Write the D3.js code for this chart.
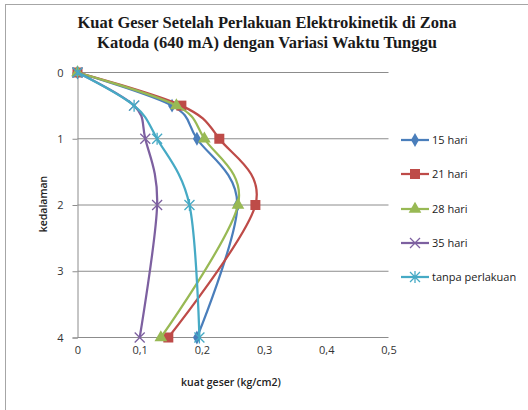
<!DOCTYPE html>
<html>
<head>
<meta charset="utf-8">
<script src="https://cdn.jsdelivr.net/npm/d3@7/dist/d3.min.js"></script>
<style>
  html, body { margin: 0; padding: 0; background: #fff; }
  svg { display: block; }
</style>
</head>
<body>
<svg id="chart" width="528" height="410"></svg>
<script>
// Depth levels (kedalaman) shared by every series
const depths = [0, 0.5, 1, 2, 4];

// Shear strength (kg/cm2) per waiting time
const hari15 = [0, 0.152, 0.192, 0.257, 0.192];
const hari21 = [0, 0.167, 0.228, 0.286, 0.146];
const hari28 = [0, 0.159, 0.204, 0.258, 0.134];
const hari35 = [0, 0.091, 0.109, 0.128, 0.100];
const tanpa  = [0, 0.091, 0.128, 0.180, 0.196];

const seriesNames = ["15 hari", "21 hari", "28 hari", "35 hari", "tanpa perlakuan"];
const seriesValues = [hari15, hari21, hari28, hari35, tanpa];
const seriesColors = ["#4A7EBB", "#BE4B48", "#98B954", "#7D60A0", "#46AAC5"];
const seriesMarkers = ["diamond", "square", "triangle", "cross", "star"];

const xTicks = [0, 0.1, 0.2, 0.3, 0.4, 0.5];
const yTicks = [0, 1, 2, 3, 4];

const titleLines = [
  "Kuat Geser Setelah Perlakuan Elektrokinetik di Zona",
  "Katoda (640 mA) dengan Variasi Waktu Tunggu"
];

const svg = d3.select("#chart");

// outer chart frame
svg.append("rect")
  .attr("x", 5.5).attr("y", 4.5)
  .attr("width", 700).attr("height", 700)
  .attr("fill", "none").attr("stroke", "#a6a6a6").attr("stroke-width", 1);

// title
svg.append("g").selectAll("text").data(titleLines).join("text")
  .attr("x", 267).attr("y", (d, i) => 28 + i * 20)
  .attr("text-anchor", "middle")
  .attr("font-family", "'Liberation Serif', 'Times New Roman', serif")
  .attr("font-weight", "bold")
  .attr("font-size", 16.5)
  .attr("fill", "#1a1a1a")
  .text(d => d);

const x = d3.scaleLinear().domain([0, 0.5]).range([77.5, 388.5]);
const y = d3.scaleLinear().domain([0, 4]).range([72.5, 337.5]);

// horizontal gridlines
svg.append("g").selectAll("line").data(yTicks).join("line")
  .attr("x1", x(0)).attr("x2", x(0.5))
  .attr("y1", d => y(d)).attr("y2", d => y(d))
  .attr("stroke", "#8c8c8c").attr("stroke-width", 1);

// y axis (depth) with ticks on the left
const yAxis = d3.axisLeft(y).tickValues(yTicks).tickSize(5).tickPadding(9)
  .tickFormat(d3.format("d"));
const gy = svg.append("g").attr("transform", `translate(${x(0)},0)`).call(yAxis);
gy.select(".domain").attr("stroke", "#8c8c8c");
gy.selectAll(".tick line").attr("stroke", "#8c8c8c");
gy.selectAll(".tick text")
  .attr("font-family", "'Open Sans', 'Liberation Sans', sans-serif")
  .attr("font-size", 11).attr("fill", "#333");

// x axis labels (bottom), no domain line besides gridline
const xAxis = d3.axisBottom(x).tickValues(xTicks).tickSize(0).tickPadding(9)
  .tickFormat(d => d === 0 ? "0" : d3.format(".1f")(d).replace(".", ","));
const gx = svg.append("g").attr("transform", `translate(0,${y(4)})`).call(xAxis);
gx.select(".domain").remove();
gx.selectAll(".tick text")
  .attr("font-family", "'Open Sans', 'Liberation Sans', sans-serif")
  .attr("font-size", 11).attr("fill", "#333");

// axis titles
svg.append("text")
  .attr("transform", "translate(47,204) rotate(-90)")
  .attr("text-anchor", "middle")
  .attr("font-family", "'Open Sans', 'Liberation Sans', sans-serif")
  .attr("font-weight", "600").attr("font-size", 10.5)
  .attr("fill", "#222")
  .text("kedalaman");

svg.append("text")
  .attr("x", 231).attr("y", 386)
  .attr("text-anchor", "middle")
  .attr("font-family", "'Open Sans', 'Liberation Sans', sans-serif")
  .attr("font-weight", "600").attr("font-size", 10.5)
  .attr("fill", "#222")
  .text("kuat geser (kg/cm2)");

// marker drawing
function drawMarker(g, type, color, cx, cy) {
  if (type === "diamond") {
    g.append("path").attr("d", d3.symbol(d3.symbolDiamond, 55)())
      .attr("transform", `translate(${cx},${cy})`).attr("fill", color);
  } else if (type === "square") {
    g.append("rect").attr("x", cx - 5).attr("y", cy - 5)
      .attr("width", 10).attr("height", 10).attr("fill", color);
  } else if (type === "triangle") {
    g.append("path").attr("d", d3.symbol(d3.symbolTriangle, 70)())
      .attr("transform", `translate(${cx},${cy})`).attr("fill", color);
  } else if (type === "cross") {
    const r = 5;
    g.append("path")
      .attr("d", `M${cx - r},${cy - r}L${cx + r},${cy + r}M${cx - r},${cy + r}L${cx + r},${cy - r}`)
      .attr("stroke", color).attr("stroke-width", 1.3).attr("fill", "none");
  } else if (type === "star") {
    const r = 5;
    g.append("path")
      .attr("d", `M${cx - r},${cy - r}L${cx + r},${cy + r}M${cx - r},${cy + r}L${cx + r},${cy - r}M${cx},${cy - r - 1}L${cx},${cy + r + 1}`)
      .attr("stroke", color).attr("stroke-width", 1.3).attr("fill", "none");
  }
}

const line = d3.line()
  .x(d => x(d.v)).y(d => y(d.depth))
  .curve(d3.curveCatmullRom.alpha(0));

const plot = svg.append("g");
seriesValues.forEach((vals, i) => {
  const pts = vals.map((v, k) => ({ v, depth: depths[k] }));
  const g = plot.append("g");
  g.append("path").datum(pts)
    .attr("d", line)
    .attr("fill", "none")
    .attr("stroke", seriesColors[i])
    .attr("stroke-width", 2.25)
    .attr("stroke-linejoin", "round");
  pts.forEach(p => drawMarker(g, seriesMarkers[i], seriesColors[i], x(p.v), y(p.depth)));
});

// legend
const legendY = [140, 174, 209, 243, 277];
const legend = svg.append("g");
seriesNames.forEach((name, i) => {
  const ly = legendY[i];
  legend.append("line")
    .attr("x1", 401).attr("x2", 429).attr("y1", ly).attr("y2", ly)
    .attr("stroke", seriesColors[i]).attr("stroke-width", 2.25);
  drawMarker(legend, seriesMarkers[i], seriesColors[i], 415, ly);
  legend.append("text")
    .attr("x", 432).attr("y", ly + 4)
    .attr("font-family", "'Open Sans', 'Liberation Sans', sans-serif")
    .attr("font-size", 11).attr("fill", "#222")
    .text(name);
});
</script>
</body>
</html>
